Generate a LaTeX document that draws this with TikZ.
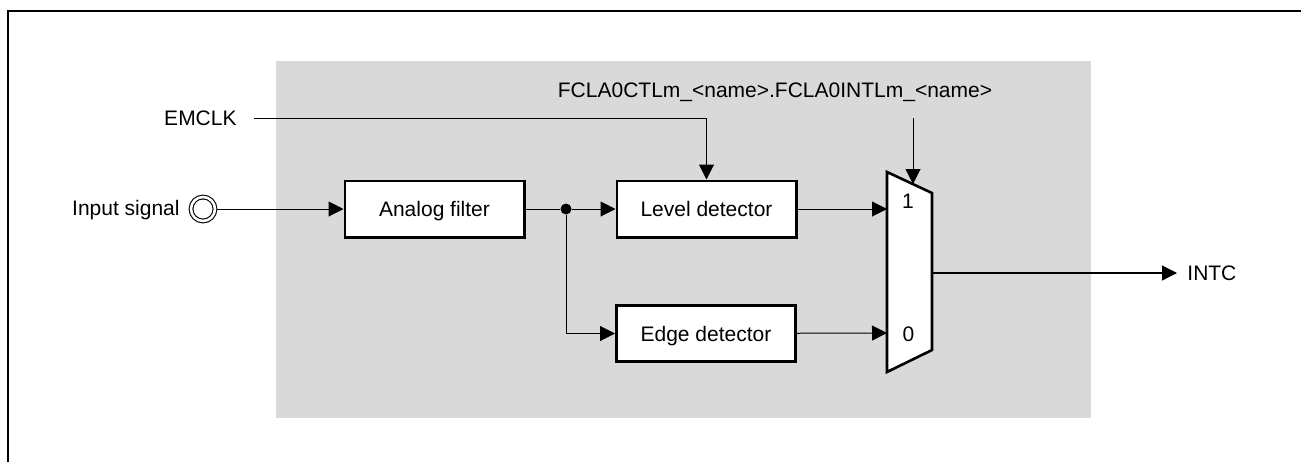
\documentclass[tikz,border=0pt]{standalone}
\usepackage{fontspec}
\setmainfont{Liberation Sans}
\usetikzlibrary{arrows.meta}
\definecolor{panelgray}{RGB}{217,217,217}

\begin{document}
\begin{tikzpicture}[x=0.5pt, y=-0.5pt, font=\fontsize{10.5}{12.6}\selectfont,
    block/.style={draw, line width=1.3pt, fill=white, minimum width=89.7pt, minimum height=28.2pt,
                  inner sep=0pt, text height=7.5pt, text depth=0pt},
    lbl/.style={inner sep=0pt, text height=7.5pt, text depth=0pt},
    conn/.style={line width=0.5pt, -{Triangle[length=7.5pt, width=7.5pt]}},
    wire/.style={line width=0.5pt}]
    \useasboundingbox (0,0) rectangle (1301,462);
    % frame and shaded area
    \draw[line width=1.3pt] (8,462) -- (8,11) -- (1301,11);
    \fill[panelgray] (276,61) rectangle (1091,418);

    % blocks
    \node[circle, draw, double, double distance=1.3pt, line width=0.55pt, minimum size=12pt,
          inner sep=0pt, outer sep=1.2pt] (pin) at (203,209) {};
    \node[lbl, anchor=east] (insig) at (180,208) {Input signal};
    \node[block] (afilt) at (434.5,209) {Analog filter};
    \node[block] (lvl) at (706.5,209) {Level detector};
    \node[block] (edge) at (706,333.5) {Edge detector};
    \node[circle, fill, inner sep=0pt, minimum size=5.5pt] (dot) at (566,209) {};
    \node[lbl, anchor=east] (emclk) at (237,118) {EMCLK};
    \node[lbl] (fcla) at (775,90) {FCLA0CTLm\_<name>.FCLA0INTLm\_<name>};
    \node[lbl, anchor=west] (intc) at (1187,273) {INTC};

    % selector
    \draw[line width=1.3pt, fill=white] (887,172) -- (932,193) -- (932,350) -- (887,372) -- cycle;
    \coordinate (in1) at (887,209);
    \coordinate (in0) at (887,333);
    \coordinate (out) at (932,273);
    \coordinate (sel) at (913,184);
    \coordinate (selsrc) at (913,118);
    \node[lbl] (one) at (908,201) {1};
    \node[lbl] (zero) at (908.5,333.5) {0};

    % connections
    \draw[conn] (pin) -- (afilt);
    \draw[wire] (afilt) -- (dot);
    \draw[conn] (dot) -- (lvl);
    \draw[conn] (dot) |- (edge);
    \draw[conn, shorten <=8.5pt] (emclk) -| (lvl);
    \draw[conn] (lvl) -- (in1);
    \draw[conn] (edge) -- (in0);
    \draw[conn] (selsrc) -- (sel);
    \draw[conn, line width=0.6pt, shorten >=5pt] (out) -- (intc);
\end{tikzpicture}
\end{document}
